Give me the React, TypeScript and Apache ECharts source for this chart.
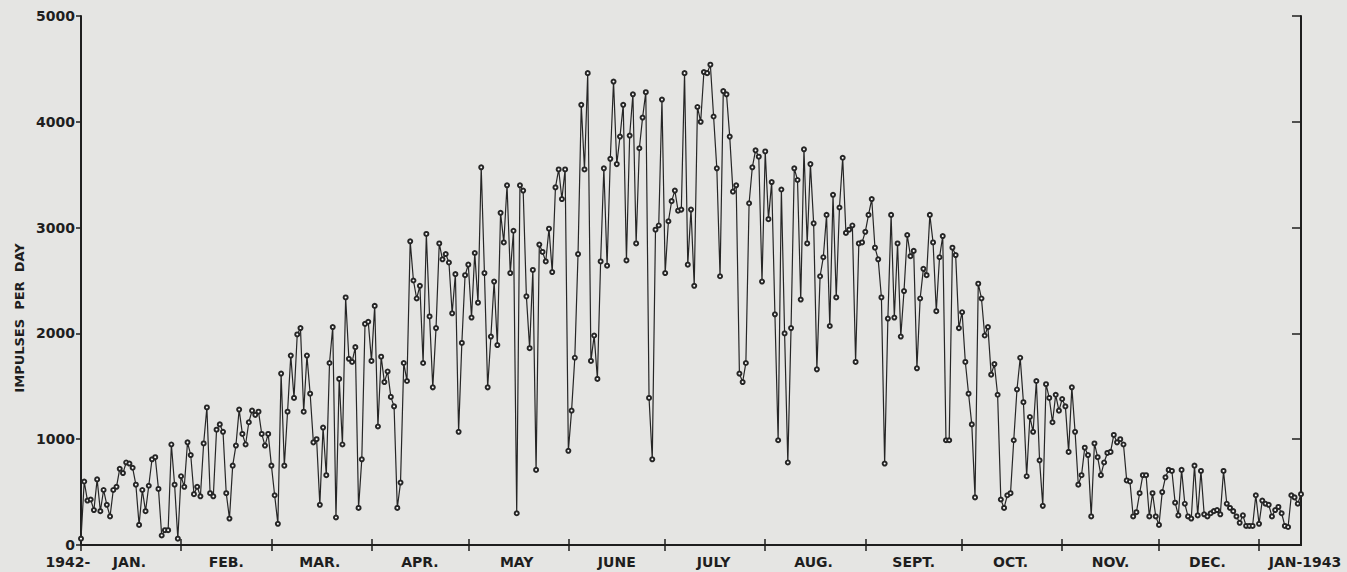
import React, { useEffect, useRef } from 'react';
import * as echarts from 'echarts';

// Daily impulses, 1942 (one value per day)
const jan42 = [60, 600, 420, 430, 330, 620, 320, 520, 380, 270, 520, 550, 720, 680, 780, 770, 730, 570, 190, 520, 320, 560, 810, 830, 530, 90, 140, 140, 950, 570, 60];
const feb42 = [650, 550, 970, 850, 480, 550, 460, 960, 1300, 490, 460, 1090, 1140, 1070, 490, 250, 750, 940, 1280, 1050, 950, 1160, 1270, 1230, 1260, 1050, 940, 1050];
const mar42 = [750, 470, 200, 1620, 750, 1260, 1790, 1390, 1990, 2050, 1260, 1790, 1430, 970, 1000, 380, 1110, 660, 1720, 2060, 260, 1570, 950, 2340, 1760, 1730, 1870, 350, 810, 2090, 2110];
const apr42 = [1740, 2260, 1120, 1780, 1540, 1640, 1400, 1310, 350, 590, 1720, 1550, 2870, 2500, 2330, 2450, 1720, 2940, 2160, 1490, 2050, 2850, 2700, 2750, 2670, 2190, 2560, 1070, 1910, 2550];
const may42 = [2650, 2150, 2760, 2290, 3570, 2570, 1490, 1970, 2490, 1890, 3140, 2860, 3400, 2570, 2970, 300, 3400, 3350, 2350, 1860, 2600, 710, 2840, 2770, 2680, 2990, 2580, 3380, 3550, 3270, 3550];
const jun42 = [890, 1270, 1770, 2750, 4160, 3550, 4460, 1740, 1980, 1570, 2680, 3560, 2640, 3650, 4380, 3600, 3860, 4160, 2690, 3870, 4260, 2850, 3750, 4040, 4280, 1390, 810, 2980, 3020, 4210];
const jul42 = [2570, 3060, 3250, 3350, 3160, 3170, 4460, 2650, 3170, 2450, 4140, 4000, 4470, 4460, 4540, 4050, 3560, 2540, 4290, 4260, 3860, 3340, 3400, 1620, 1540, 1720, 3230, 3570, 3730, 3670, 2490];
const aug42 = [3720, 3080, 3430, 2180, 990, 3360, 2000, 780, 2050, 3560, 3450, 2320, 3740, 2850, 3600, 3040, 1660, 2540, 2720, 3120, 2070, 3310, 2340, 3190, 3660, 2950, 2980, 3020, 1730, 2850, 2860];
const sep42 = [2960, 3120, 3270, 2810, 2700, 2340, 770, 2140, 3120, 2150, 2850, 1970, 2400, 2930, 2730, 2780, 1670, 2330, 2610, 2550, 3120, 2860, 2210, 2720, 2920, 990, 990, 2810, 2740, 2050];
const oct42 = [2200, 1730, 1430, 1140, 450, 2470, 2330, 1980, 2060, 1610, 1710, 1420, 430, 350, 470, 490, 990, 1470, 1770, 1350, 650, 1210, 1070, 1550, 800, 370, 1520, 1390, 1160, 1420, 1270];
const nov42 = [1380, 1310, 880, 1490, 1070, 570, 660, 920, 850, 270, 960, 830, 660, 780, 870, 880, 1040, 970, 1000, 950, 610, 600, 270, 310, 490, 660, 660, 270, 490, 270];
const dec42 = [190, 500, 640, 710, 700, 400, 280, 710, 390, 270, 250, 750, 280, 700, 290, 270, 300, 320, 330, 290, 700, 390, 350, 320, 270, 210, 280, 180, 180, 180, 470];
const jan43 = [200, 420, 390, 380, 270, 330, 360, 300, 180, 170, 470, 450, 390, 480];

const monthLabels = ['JAN.', 'FEB.', 'MAR.', 'APR.', 'MAY', 'JUNE', 'JULY', 'AUG.', 'SEPT.', 'OCT.', 'NOV.', 'DEC.'];
const startLabel = '1942-';
const endLabel = 'JAN-1943';
const yTicks = [0, 1000, 2000, 3000, 4000, 5000];
const yTitle = 'IMPULSES  PER  DAY';

const months1942 = [jan42, feb42, mar42, apr42, may42, jun42, jul42, aug42, sep42, oct42, nov42, dec42];

export default function App() {
  const ref = useRef<HTMLDivElement>(null);

  useEffect(() => {
    document.body.style.margin = '0';
    const chart = echarts.init(ref.current!, null, { renderer: 'svg' });

    const values: number[] = [];
    const starts: number[] = [];
    months1942.forEach((m) => {
      starts.push(values.length);
      values.push(...m);
    });
    starts.push(values.length); // Jan 1, 1943
    values.push(...jan43);
    const days = values.map((_, i) => String(i));
    const last = values.length - 1;

    const startSet = new Set(starts);
    const labelAt = new Map<number, string>();
    labelAt.set(0, '{y|' + startLabel + '}');
    months1942.forEach((m, i) => labelAt.set(starts[i] + Math.floor(m.length / 2), '{m|' + monthLabels[i] + '}'));
    labelAt.set(last, '{e|' + endLabel + '}');

    const ink = '#1e1e1e';
    const font = 'DejaVu Sans';

    chart.setOption({
      animation: false,
      backgroundColor: '#e5e5e3',
      grid: { left: 81, right: 46, top: 16, bottom: 27, containLabel: false },
      graphic: [
        {
          type: 'text',
          x: 19,
          y: 318,
          rotation: Math.PI / 2,
          style: {
            text: yTitle,
            fontFamily: font,
            fontWeight: 'bold',
            fontSize: 13,
            fill: ink,
            textAlign: 'center',
            textVerticalAlign: 'middle',
          },
        },
      ],
      xAxis: [
        {
          type: 'category',
          data: days,
          boundaryGap: false,
          position: 'bottom',
          axisLine: { show: true, lineStyle: { color: ink, width: 2 } },
          axisTick: { show: true, inside: true, length: 6, interval: (i: number) => startSet.has(i), lineStyle: { color: ink, width: 1.5 } },
          axisLabel: {
            show: true,
            interval: (i: number) => labelAt.has(i),
            formatter: (_v: string, i: number) => labelAt.get(i) || '',
            margin: 10,
            color: ink,
            rich: {
              m: { fontFamily: font, fontWeight: 'bold', fontSize: 14, color: ink },
              y: { fontFamily: font, fontWeight: 'bold', fontSize: 14, color: ink, padding: [0, 26, 0, 0] },
              e: { fontFamily: font, fontWeight: 'bold', fontSize: 14, color: ink, padding: [0, 0, 0, 8] },
            },
          },
          splitLine: { show: false },
        },
        {
          type: 'category',
          data: days,
          boundaryGap: false,
          position: 'top',
          axisLine: { show: true, lineStyle: { color: ink, width: 2 } },
          axisTick: { show: true, inside: true, length: 6, interval: (i: number) => startSet.has(i), lineStyle: { color: ink, width: 1.5 } },
          axisLabel: { show: false },
          splitLine: { show: false },
        },
      ],
      yAxis: [
        {
          type: 'value',
          min: yTicks[0],
          max: yTicks[yTicks.length - 1],
          interval: 1000,
          position: 'left',
          axisLine: { show: true, lineStyle: { color: ink, width: 2 } },
          axisTick: { show: true, inside: false, length: 5, lineStyle: { color: ink, width: 1.5 } },
          axisLabel: { margin: 6, fontFamily: font, fontWeight: 'bold', fontSize: 14, color: ink, formatter: (v: number) => String(v) },
          splitLine: { show: false },
        },
        {
          type: 'value',
          min: yTicks[0],
          max: yTicks[yTicks.length - 1],
          interval: 1000,
          position: 'right',
          axisLine: { show: true, lineStyle: { color: ink, width: 2 } },
          axisTick: { show: true, inside: true, length: 9, lineStyle: { color: ink, width: 1.5 } },
          axisLabel: { show: false },
          splitLine: { show: false },
        },
      ],
      series: [
        {
          type: 'line',
          data: values,
          xAxisIndex: 0,
          yAxisIndex: 0,
          symbol: 'emptyCircle',
          symbolSize: 4,
          showAllSymbol: true,
          lineStyle: { color: '#262626', width: 1.2 },
          itemStyle: { color: '#262626', borderWidth: 1.1 },
          emphasis: { disabled: true },
        },
      ],
    });

    return () => chart.dispose();
  }, []);

  return <div ref={ref} style={{ position: 'fixed', left: 0, top: 0, width: 1347, height: 572 }} />;
}
